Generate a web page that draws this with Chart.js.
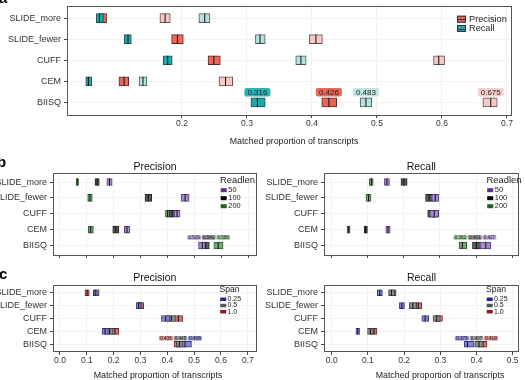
<!DOCTYPE html>
<html>
<head>
<meta charset="utf-8">
<script src="https://cdn.jsdelivr.net/npm/chart.js@4.4.1/dist/chart.umd.min.js"></script>
<style>
  html, body { margin: 0; padding: 0; background: #fff; overflow: hidden; }
  #wrap { position: relative; width: 525px; height: 380px; overflow: hidden; }
  canvas { position: absolute; }
  .tag { position: absolute; font: bold 15px "Liberation Sans", Arial, sans-serif; line-height: 15px; color: #000; }
</style>
</head>
<body>
<div id="wrap">
  <canvas id="pa" width="525" height="146" style="left:0;top:0"></canvas>
  <canvas id="pbl" width="262" height="100" style="left:0;top:162px"></canvas>
  <canvas id="pbr" width="263" height="100" style="left:262px;top:162px"></canvas>
  <canvas id="pcl" width="262" height="107" style="left:0;top:273px"></canvas>
  <canvas id="pcr" width="263" height="107" style="left:262px;top:273px"></canvas>
  <div class="tag" style="left:-1px;top:-10px">a</div>
  <div class="tag" style="left:-3px;top:154px">b</div>
  <div class="tag" style="left:-1px;top:266px">c</div>
</div>
<script>
const FONT = '"Liberation Sans", Arial, sans-serif';
const categories = ['SLIDE_more', 'SLIDE_fewer', 'CUFF', 'CEM', 'BIISQ'];

// each entry: [lower hinge, median, upper hinge], one per category
// panel a
const aRecallDark     = [[0.068, 0.073, 0.079], [0.111, 0.117, 0.122], [0.171, 0.178, 0.185], [0.052, 0.056, 0.061], [0.306, 0.316, 0.328]];
const aPrecisionDark  = [[0.073, 0.078, 0.084], [0.184, 0.193, 0.202], [0.240, 0.249, 0.259], [0.103, 0.111, 0.118], [0.415, 0.426, 0.438]];
const aRecallLight    = [[0.226, 0.235, 0.243], [0.313, 0.320, 0.328], [0.375, 0.383, 0.391], [0.134, 0.140, 0.146], [0.474, 0.483, 0.492]];
const aPrecisionLight = [[0.166, 0.174, 0.182], [0.396, 0.406, 0.416], [0.587, 0.595, 0.604], [0.257, 0.267, 0.278], [0.663, 0.675, 0.685]];
const aTicks = [0.2, 0.3, 0.4, 0.5, 0.6, 0.7];

// panel b, by read length
const bPrec50   = [[0.174, 0.184, 0.194], [0.450, 0.465, 0.480], [0.424, 0.435, 0.446], [0.239, 0.249, 0.260], [0.515, 0.529, 0.540]];
const bPrec100  = [[0.130, 0.138, 0.146], [0.316, 0.328, 0.341], [0.406, 0.417, 0.428], [0.196, 0.207, 0.219], [0.528, 0.541, 0.555]];
const bPrec200  = [[0.060, 0.064, 0.069], [0.103, 0.111, 0.120], [0.392, 0.400, 0.409], [0.105, 0.114, 0.124], [0.572, 0.588, 0.606]];
const bRec50    = [[0.146, 0.153, 0.160], [0.277, 0.287, 0.297], [0.272, 0.284, 0.296], [0.150, 0.156, 0.162], [0.411, 0.427, 0.441]];
const bRec100   = [[0.192, 0.200, 0.209], [0.260, 0.270, 0.281], [0.266, 0.281, 0.297], [0.090, 0.094, 0.099], [0.390, 0.401, 0.414]];
const bRec200   = [[0.104, 0.110, 0.115], [0.095, 0.102, 0.109], [0.270, 0.280, 0.290], [0.043, 0.047, 0.051], [0.353, 0.362, 0.374]];
const readlens = ['50', '100', '200'];

// panel c, by span
const cPrec025  = [[0.124, 0.131, 0.139], [0.284, 0.293, 0.302], [0.378, 0.394, 0.410], [0.157, 0.168, 0.180], [0.455, 0.466, 0.490]];
const cPrec05   = [[0.128, 0.136, 0.146], [0.288, 0.297, 0.306], [0.400, 0.415, 0.430], [0.173, 0.185, 0.198], [0.434, 0.445, 0.462]];
const cPrec10   = [[0.093, 0.101, 0.109], [0.292, 0.302, 0.312], [0.425, 0.441, 0.458], [0.192, 0.205, 0.219], [0.425, 0.436, 0.450]];
const cRec025   = [[0.126, 0.133, 0.140], [0.187, 0.194, 0.201], [0.249, 0.258, 0.268], [0.067, 0.072, 0.077], [0.366, 0.375, 0.392]];
const cRec05    = [[0.157, 0.165, 0.174], [0.214, 0.224, 0.235], [0.280, 0.290, 0.300], [0.099, 0.107, 0.115], [0.395, 0.407, 0.418]];
const cRec10    = [[0.160, 0.169, 0.178], [0.229, 0.239, 0.249], [0.286, 0.296, 0.306], [0.109, 0.117, 0.125], [0.406, 0.418, 0.429]];
const spans = ['0.25', '0.5', '1.0'];

const precTicks = [0, 0.1, 0.2, 0.3, 0.4, 0.5, 0.6, 0.7];
const recTicks = [0, 0.1, 0.2, 0.3, 0.4, 0.5];

// colours
const TEAL = '#22a7a7', TEAL_L = '#b6e2de', RED = '#e8665c', RED_L = '#f5c9c5';
const RL = {
  '50':  {fill: '#a58bc8', edge: '#5a3a84', key: '#5b2d86', lab: '#b9a5d6'},
  '100': {fill: '#5a5a5a', edge: '#222222', key: '#000000', lab: '#8a8a8a'},
  '200': {fill: '#72aa72', edge: '#2c5c2c', key: '#1f5f1f', lab: '#96c496'}
};
const SP = {
  '0.25': {fill: '#8686c8', edge: '#36368a', key: '#24248a', lab: '#8c8cd2'},
  '0.5':  {fill: '#8c8c8c', edge: '#444444', key: '#555555', lab: '#a0a0a0'},
  '1.0':  {fill: '#c47878', edge: '#7a2424', key: '#8b1a1a', lab: '#da8c8c'}
};

const frame = {
  id: 'frame',
  afterDatasetsDraw(chart) {
    const {ctx, chartArea: a} = chart;
    ctx.save();
    ctx.strokeStyle = '#555';
    ctx.lineWidth = 1;
    ctx.strokeRect(Math.round(a.left) + 0.5, Math.round(a.top) + 0.5,
                   Math.round(a.right - a.left) - 1, Math.round(a.bottom - a.top) - 1);
    ctx.restore();
  }
};

function axisTitle(text, cx, size) {
  return {
    id: 'axisTitle',
    afterDraw(chart) {
      const ctx = chart.ctx;
      ctx.save();
      ctx.font = size + 'px ' + FONT;
      ctx.fillStyle = '#222';
      ctx.textAlign = 'center';
      ctx.textBaseline = 'middle';
      ctx.fillText(text, cx, chart.height - size / 2 - 0.5);
      ctx.restore();
    }
  };
}

// boxed value labels above the BIISQ row, pushed apart where they overlap
function valueLabels(items, o) {
  return {
    id: 'valueLabels',
    afterDatasetsDraw(chart) {
      const {ctx, scales: {x, y}} = chart;
      ctx.save();
      ctx.font = o.size + 'px ' + FONT;
      const yy = y.getPixelForValue(categories.length) - o.dy;
      const boxes = items.map(it => {
        const v = it.series[categories.length - 1][1];
        const t = v.toFixed(3);
        return {t, w: ctx.measureText(t).width + o.pad * 2, cx: x.getPixelForValue(v), fill: it.fill};
      }).sort((p, q) => p.cx - q.cx);
      for (let k = 0; k < 60; k++) {
        for (let i = 1; i < boxes.length; i++) {
          const p = boxes[i - 1], q = boxes[i];
          const ov = (p.cx + p.w / 2 + o.gap) - (q.cx - q.w / 2);
          if (ov > 0) { p.cx -= ov / 2; q.cx += ov / 2; }
        }
      }
      boxes.forEach(b => {
        ctx.fillStyle = b.fill;
        ctx.beginPath();
        if (ctx.roundRect) ctx.roundRect(b.cx - b.w / 2, yy - o.h / 2, b.w, o.h, o.r);
        else ctx.rect(b.cx - b.w / 2, yy - o.h / 2, b.w, o.h);
        ctx.fill();
        ctx.fillStyle = '#222';
        ctx.textAlign = 'center';
        ctx.textBaseline = 'middle';
        ctx.fillText(b.t, b.cx, yy + 0.3);
      });
      ctx.restore();
    }
  };
}

function keyBox(k) {
  return {
    id: 'keyBox',
    afterDraw(chart) {
      const {ctx, chartArea: a} = chart;
      const x0 = a.right - k.dx;
      ctx.save();
      ctx.textBaseline = 'middle';
      ctx.textAlign = 'left';
      if (k.title) {
        ctx.font = k.titleSize + 'px ' + FONT;
        ctx.fillStyle = '#222';
        ctx.fillText(k.title, x0, a.top + k.titleDy);
      }
      ctx.font = k.size + 'px ' + FONT;
      k.items.forEach((it, i) => {
        const yy = a.top + k.dy + i * k.step;
        ctx.fillStyle = it.color;
        ctx.fillRect(x0 + k.swX, yy - k.sh / 2, k.sw, k.sh);
        if (k.outline) {
          ctx.strokeStyle = '#333';
          ctx.lineWidth = 1;
          ctx.strokeRect(x0 + k.swX + 0.5, yy - k.sh / 2 + 0.5, k.sw - 1, k.sh - 1);
          ctx.beginPath();
          ctx.moveTo(x0 + k.swX + 1, Math.round(yy) + 0.5);
          ctx.lineTo(x0 + k.swX + k.sw - 1, Math.round(yy) + 0.5);
          ctx.stroke();
        }
        ctx.fillStyle = '#222';
        ctx.fillText(it.text, x0 + k.textX, yy);
      });
      ctx.restore();
    }
  };
}

function boxChart(id, c) {
  const datasets = [];
  c.series.forEach((s, k) => {
    datasets.push({
      type: 'bar',
      label: s.name,
      data: s.values.map((v, i) => ({x: [v[0], v[2]], y: i + 1})),
      backgroundColor: s.fill,
      borderColor: s.edge,
      borderWidth: 1,
      borderSkipped: false,
      barThickness: c.boxH,
      grouped: false,
      order: 2 * k + 1
    });
    datasets.push({
      type: 'scatter',
      data: s.values.map((v, i) => ({x: v[1], y: i + 1})),
      pointStyle: 'line',
      pointRotation: 90,
      pointRadius: c.boxH / 2,
      pointBorderColor: '#111',
      pointBorderWidth: 1,
      order: 2 * k
    });
  });
  return new Chart(document.getElementById(id), {
    type: 'bar',
    data: {datasets},
    options: {
      responsive: false,
      animation: false,
      events: [],
      indexAxis: 'y',
      layout: {padding: c.pad},
      plugins: {
        legend: {display: false},
        tooltip: {enabled: false},
        title: c.title ? {
          display: true, text: c.title, fullSize: false, color: '#111',
          font: {family: FONT, size: 10.5, weight: 'normal', lineHeight: 1},
          padding: {top: 0, bottom: c.titlePad}
        } : {display: false}
      },
      scales: {
        x: {
          type: 'linear', min: c.xMin, max: c.xMax,
          afterBuildTicks: sc => { sc.ticks = c.xTicks.map(v => ({value: v})); },
          afterFit: sc => { sc.height = c.xH; sc.paddingLeft = 0; sc.paddingRight = 0; },
          ticks: {display: c.xLabels, callback: v => v.toFixed(1), color: '#333',
                  font: {family: FONT, size: 8.5}, padding: 1, maxRotation: 0, autoSkip: false},
          grid: {color: '#f1f1f1', tickColor: '#444', tickLength: 3},
          border: {display: false}
        },
        y: {
          type: 'linear', reverse: true, offset: false, min: 0.4, max: categories.length + 0.6,
          afterBuildTicks: sc => { sc.ticks = categories.map((n, i) => ({value: i + 1})); },
          afterFit: sc => { sc.width = c.yW; sc.paddingTop = 0; sc.paddingBottom = 0; },
          ticks: {callback: v => categories[v - 1], color: '#333', autoSkip: false,
                  font: {family: FONT, size: 9}, padding: 3},
          grid: {color: '#f3f3f3', tickColor: '#444', tickLength: 3, offset: false},
          border: {display: false}
        }
      }
    },
    plugins: [frame].concat(c.plugins || [])
  });
}

// panel a
boxChart('pa', {
  boxH: 9, yW: 67, xH: 31, pad: {left: 0, right: 13, top: 0, bottom: 0},
  xMin: 0.0231, xMax: 0.7077, xTicks: aTicks, xLabels: true,
  series: [
    {name: 'Recall', values: aRecallDark, fill: TEAL, edge: '#1d4f4f'},
    {name: 'Precision', values: aPrecisionDark, fill: RED, edge: '#5e2a26'},
    {name: 'Recall', values: aRecallLight, fill: TEAL_L, edge: '#3e5e5c'},
    {name: 'Precision', values: aPrecisionLight, fill: RED_L, edge: '#6a4e4c'}
  ],
  plugins: [
    axisTitle('Matched proportion of transcripts', 294, 8.8),
    valueLabels([
      {series: aRecallDark, fill: '#2fb4b6'}, {series: aPrecisionDark, fill: '#e8675d'},
      {series: aRecallLight, fill: '#bfe4e1'}, {series: aPrecisionLight, fill: '#f7cfcc'}
    ], {size: 8, dy: 10.2, h: 8.5, pad: 3, gap: 2, r: 2}),
    keyBox({dx: 55, dy: 13.7, step: 9.3, sw: 9, sh: 7, swX: 0, textX: 12, size: 9.2, outline: true,
            items: [{text: 'Precision', color: RED}, {text: 'Recall', color: TEAL}]})
  ]
});

function readlenSeries(s50, s100, s200) {
  return [s50, s100, s200].map((v, i) => ({name: readlens[i], values: v, fill: RL[readlens[i]].fill, edge: RL[readlens[i]].edge}));
}
function spanSeries(s025, s05, s10) {
  return [s025, s05, s10].map((v, i) => ({name: spans[i], values: v, fill: SP[spans[i]].fill, edge: SP[spans[i]].edge}));
}
const rlKey = dx => keyBox({title: 'Readlen', titleSize: 9.4, titleDy: 7.7, dx, dy: 17.7, step: 8, sw: 6, sh: 4,
  swX: 0.7, textX: 8.3, size: 7.4, items: readlens.map(r => ({text: r, color: RL[r].key}))});
const spKey = dx => keyBox({title: 'Span', titleSize: 8.6, titleDy: 5, dx, dy: 14.3, step: 6.2, sw: 6, sh: 3.5,
  swX: 0.7, textX: 8, size: 7, items: spans.map(r => ({text: r, color: SP[r].key}))});
const smallLab = {size: 4.6, dy: 8, h: 4.7, pad: 1.2, gap: 0.6, r: 1};

// panel b
boxChart('pbl', {
  boxH: 7, yW: 53, xH: 7, pad: {left: 0, right: 5, top: 0, bottom: 0}, title: 'Precision', titlePad: 0,
  xMin: -0.026, xMax: 0.7323, xTicks: precTicks, xLabels: false,
  series: readlenSeries(bPrec50, bPrec100, bPrec200),
  plugins: [
    valueLabels(readlens.map((r, i) => ({series: [bPrec50, bPrec100, bPrec200][i], fill: RL[r].lab})), smallLab),
    rlKey(37)
  ]
});
boxChart('pbr', {
  boxH: 7, yW: 62, xH: 7, pad: {left: 0, right: 6.5, top: 0, bottom: 0}, title: 'Recall', titlePad: 0,
  xMin: -0.0213, xMax: 0.5175, xTicks: recTicks, xLabels: false,
  series: readlenSeries(bRec50, bRec100, bRec200),
  plugins: [
    valueLabels(readlens.map((r, i) => ({series: [bRec50, bRec100, bRec200][i], fill: RL[r].lab})), smallLab),
    rlKey(32)
  ]
});

// panel c
boxChart('pcl', {
  boxH: 6, yW: 53, xH: 28, pad: {left: 0, right: 5.5, top: 0, bottom: 0}, title: 'Precision', titlePad: 1.5,
  xMin: -0.026, xMax: 0.7323, xTicks: precTicks, xLabels: true,
  series: spanSeries(cPrec025, cPrec05, cPrec10),
  plugins: [
    axisTitle('Matched proportion of transcripts', 158, 8.8),
    valueLabels(spans.map((r, i) => ({series: [cPrec025, cPrec05, cPrec10][i], fill: SP[r].lab})), Object.assign({}, smallLab, {dy: 6})),
    spKey(37)
  ]
});
boxChart('pcr', {
  boxH: 6, yW: 62, xH: 28, pad: {left: 0, right: 6, top: 0, bottom: 0}, title: 'Recall', titlePad: 1.5,
  xMin: -0.0213, xMax: 0.5175, xTicks: recTicks, xLabels: true,
  series: spanSeries(cRec025, cRec05, cRec10),
  plugins: [
    axisTitle('Matched proportion of transcripts', 178, 8.8),
    valueLabels(spans.map((r, i) => ({series: [cRec025, cRec05, cRec10][i], fill: SP[r].lab})), Object.assign({}, smallLab, {dy: 6})),
    spKey(33)
  ]
});
</script>
</body>
</html>
